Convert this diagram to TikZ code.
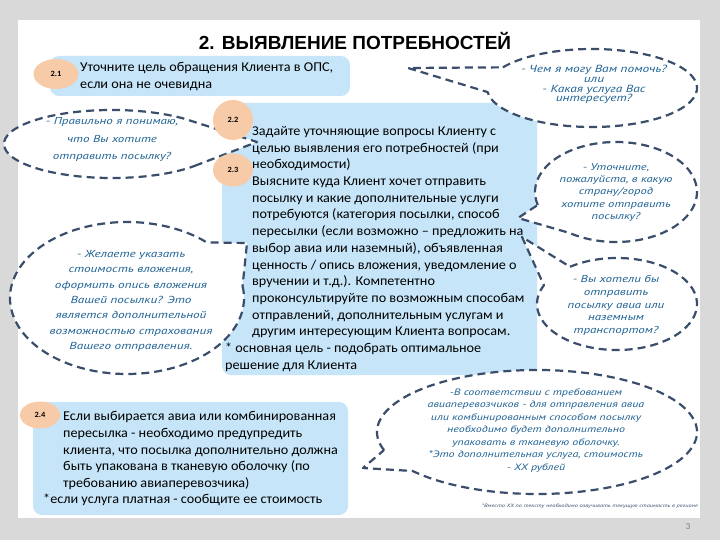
\documentclass[tikz,border=0pt]{standalone}
\usepackage{fontspec}
\setmainfont{Carlito}[FakeStretch=1.05]
\newfontfamily\headfont{Liberation Sans}
\newfontfamily\askfont{PT Sans}[FakeStretch=1.3]
\usetikzlibrary{shapes.geometric}

\definecolor{slidegray}{RGB}{217,217,217}
\definecolor{boxblue}{RGB}{198,229,248}
\definecolor{stepeach}{RGB}{248,203,168}
\definecolor{dashnavy}{RGB}{58,78,108}
\definecolor{askblue}{RGB}{31,98,148}

% center, x radius, y radius, start angle, end angle, tip
\newcommand\balloonpath[6]{%
  \draw[balloon] (#1) ++(#4:#2 and #3) arc[start angle=#4, end angle=#5, x radius=#2, y radius=#3] -- (#6) -- cycle;}

\begin{document}
\begin{tikzpicture}[x=1pt, y=-1pt,
  infobox/.style={fill=boxblue, rounded corners=9pt},
  stepmark/.style={ellipse, fill=stepeach, inner sep=0pt, font=\fontsize{8}{8}\selectfont\bfseries},
  bodytext/.style={align=left, inner sep=0pt, anchor=west, font=\fontsize{13.5}{16.7}\selectfont},
  asktext/.style={align=center, inner sep=0pt, text=askblue},
  balloon/.style={draw=dashnavy, fill=white, line width=2.2pt, dash pattern=on 8pt off 5pt, line join=round}]

\useasboundingbox (0,0) rectangle (720,540);
\fill[slidegray] (0,0) rectangle (720,540);
\fill[white] (18,20) rectangle (700,518);

\node (title) at (355,41) {\headfont\bfseries\fontsize{19}{23}\selectfont 2. ВЫЯВЛЕНИЕ ПОТРЕБНОСТЕЙ};

% blue boxes
\fill[infobox] (50,56) rectangle (350,96);
\fill[infobox] (222,103) rectangle (537,375);
\fill[infobox] (33,402) rectangle (348,515);

% texts in boxes
\node[bodytext] (aim) at (80,76.5) {Уточните цель обращения Клиента в ОПС,\\если она не очевидна};
\node[bodytext] (ask) at (252,232.2) {Задайте уточняющие вопросы Клиенту с\\целью выявления его потребностей (при\\необходимости)\\Выясните куда Клиент хочет отправить\\посылку и какие дополнительные услуги\\потребуются (категория посылки, способ\\пересылки (если возможно – предложить на\\выбор авиа или наземный), объявленная\\ценность / опись вложения, уведомление о\\вручении и т.д.). Компетентно\\проконсультируйте по возможным способам\\отправлений, дополнительным услугам и\\другим интересующим Клиента вопросам.};
\node[bodytext] (goal) at (225,357.5) {* основная цель - подобрать оптимальное\\решение для Клиента};
\node[bodytext] (avia) at (63,450.5) {Если выбирается авиа или комбинированная\\пересылка - необходимо предупредить\\клиента, что посылка дополнительно должна\\быть упакована в тканевую оболочку (по\\требованию авиаперевозчика)};
\node[bodytext] (fee) at (43,500) {*если услуга платная - сообщите ее стоимость};

% speech balloons
\coordinate (tipA) at (408,68);
\coordinate (tipB) at (257,142);
\coordinate (tipC) at (247,243);
\coordinate (tipD) at (518,218);
\coordinate (tipE) at (522,237);
\coordinate (tipF) at (363,468);
\balloonpath{592,88}{105}{39}{212}{534}{tipA}
\balloonpath{112,144}{108}{34}{38}{313}{tipB}
\balloonpath{127,298}{117}{76}{-9}{313}{tipC}
\balloonpath{616,192}{81}{50}{165}{485}{tipD}
\balloonpath{617,304}{80}{46}{234}{564}{tipE}
\balloonpath{537,432}{160}{62}{163}{501}{tipF}

% step numbers
\node[stepmark, minimum width=45pt, minimum height=30pt] (s21) at (56,74) {2.1};
\node[stepmark, minimum width=40pt, minimum height=40pt] (s22) at (233,120) {2.2};
\node[stepmark, minimum width=40pt, minimum height=33pt] (s23) at (233,170) {2.3};
\node[stepmark, minimum width=40pt, minimum height=27pt] (s24) at (40,415) {2.4};

\node[asktext, font=\askfont\itshape\fontsize{10.3}{9.8}\selectfont] (helpq) at (594,84.5) {- Чем я могу Вам помочь?\\или\\- Какая услуга Вас\\интересует?};
\node[asktext, font=\askfont\itshape\fontsize{10}{17.5}\selectfont] (sendq) at (112,140) {- Правильно я понимаю,\\что Вы хотите\\отправить посылку?};
\node[asktext, font=\askfont\itshape\fontsize{10.15}{15.3}\selectfont] (valueq) at (131,301) {- Желаете указать\\стоимость вложения,\\оформить опись вложения\\Вашей посылки? Это\\является дополнительной\\возможностью страхования\\Вашего отправления.};
\node[asktext, font=\askfont\itshape\fontsize{9.7}{12.3}\selectfont] (cityq) at (616,192.5) {- Уточните,\\пожалуйста, в какую\\страну/город\\хотите отправить\\посылку?};
\node[asktext, font=\askfont\itshape\fontsize{10}{12.8}\selectfont] (modeq) at (616,305.5) {- Вы хотели бы\\отправить\\посылку авиа или\\наземным\\транспортом?};
\node[asktext, font=\askfont\itshape\fontsize{9.2}{12.5}\selectfont] (wrapq) at (536,430.5) {-В соответствии с требованием\\авиаперевозчиков - для отправления авиа\\или комбинированным способом посылку\\необходимо будет дополнительно\\упаковать в тканевую оболочку.\\*Это дополнительная услуга, стоимость\\- XX рублей};

\node[inner sep=0pt, text=dashnavy, font=\askfont\itshape\fontsize{4.85}{6}\selectfont] (note) at (590,506) {*Вместо XX по тексту необходимо озвучивать текущую стоимость в регионе};
\node[text=gray, font=\fontsize{9}{10}\selectfont] (page) at (688,527) {3};
\end{tikzpicture}
\end{document}
